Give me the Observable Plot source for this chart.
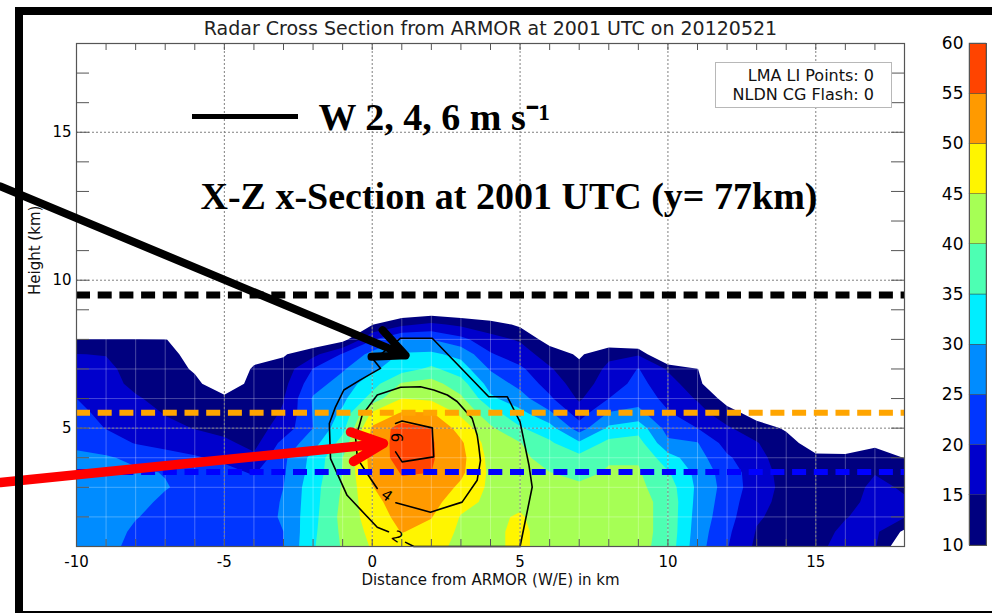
<!DOCTYPE html>
<html><head><meta charset="utf-8">
<script src="https://cdn.jsdelivr.net/npm/d3@7"></script>
<script src="https://cdn.jsdelivr.net/npm/@observablehq/plot@0.6"></script>
<style>
html,body{margin:0;padding:0;background:#fff;}
#wrap{position:relative;width:992px;height:613px;overflow:hidden;background:#fff;font-family:"DejaVu Sans",sans-serif;}
#main,#cbar{position:absolute;top:0;}
#main{left:0;}
#cbar{left:930px;}
.frame{position:absolute;left:15px;top:7px;width:1000px;height:596px;border:8px solid #000;pointer-events:none;}
.lgbox{position:absolute;left:715px;top:62px;width:158px;height:41px;padding:3px 17px 0 0;border:1px solid #b8b8b8;background:#fff;font:16px "DejaVu Sans",sans-serif;text-align:right;line-height:19px;color:#111;white-space:nowrap;}
.lgline{position:absolute;left:192px;top:113.5px;width:106px;height:5px;background:#000;}
</style>
</head><body>
<div id="wrap">
  <div id="main"></div>
  <div id="cbar"></div>
  <div class="lgline"></div>
  <div class="lgbox">LMA LI Points: 0<br>NLDN CG Flash: 0</div>
  <div class="frame"></div>
</div>
<script>
// ---------- data ----------
const titleText = "Radar Cross Section from ARMOR at 2001 UTC on 20120521";
const xLabel = "Distance from ARMOR (W/E) in km";
const yLabel = "Height (km)";
const xMajor = [-10, -5, 0, 5, 10, 15];
const yMajor = [5, 10, 15];
const cbTicks = [10, 15, 20, 25, 30, 35, 40, 45, 50, 55, 60];
const dbzLevels = [10, 15, 20, 25, 30, 35, 40, 45, 50, 55];
const dbzColors = ["#00007f", "#0000cc", "#0036ff", "#008cff", "#00eeff",
                   "#4dffb3", "#a6ff55", "#fff500", "#ff9a00", "#ff4400"];

// reflectivity grid: columns at x = -10..18 km, rows z = 1..9 km every 0.5 km
const gridX = [-10,-9,-8,-7,-6,-5,-4,-3,-2,-1,0,1,2,3,4,5,6,7,8,9,10,11,12,13,14,15,16,17,18];
const gridZ = [1,1.5,2,2.5,3,3.5,4,4.5,5,5.5,6,6.5,7,7.5,8,8.5,9];
const dbzByColumn = [
  [28,28,28,28,28,27,26,24,23,21.5,20,18.5,17,15.1,10.2,0,0],
  [27,27.5,28,28,28,27,25.5,22.5,19.8,18.5,17.5,16.5,16.2,14.8,10.3,0,0],
  [23,24,25.3,26.5,26.5,25.7,24,19.7,18.5,17.5,15.5,14,13,12,10.3,0,0],
  [21.5,22,23,24,25.3,24.8,21.5,18.8,16.5,14.7,13.5,12.5,12,11,10.1,0,0],
  [21,21.5,22,22.5,23.5,23,20.5,17.5,14.8,13.5,12.5,11,9.5,8.9,8.5,0,0],
  [21.5,22,22,22.5,22.5,21.5,19,16,13.5,12,11,7,5,3,0,0,0],
  [22,22.5,23,23,22,19.5,16,13.5,13,12.5,12,11.5,10.7,8,0,0,0],
  [25,25,25.5,25.3,25,24.5,24,21.5,17,15.5,14.8,13.5,12,9.5,0,0,0],
  [34.5,34,33.5,33.2,33,32,31.5,28,25,25.3,25.5,23,20.2,13.5,5,0,0],
  [40.5,41,41.5,41,40.5,40.2,40,37,33.5,31,28.8,27,24.5,20.5,8,0,0],
  [45.5,46.5,47.5,48.5,49.8,51.5,52,51.5,50.8,46,37,33,29,26.5,19.5,9.8,0],
  [48,50.2,51.5,52.5,54,55.3,57,57.5,57.5,50.5,45,40.5,33,30.5,25,14,5],
  [47,48.5,50.2,52,53.5,55,55.5,55.5,55,50.5,44,42,36,31,25,16,6],
  [43.5,44,44.7,46.5,49,51,51.5,50.8,48,44,41,37,32.5,28.5,21.5,14,5],
  [44,44,44,44,44,44,43.5,42.5,40.8,37,31,28,24.5,20.5,16.5,12.5,3],
  [46,46,45.5,44,43,42.5,41.5,40.2,35.5,31.5,27,23.5,21,17,14.5,9,0],
  [43,43,42.5,42,41.5,40.1,37.5,35.8,32,26,20.8,18,15.5,13,7.5,0,0],
  [42.5,42.5,42,41.5,41,38.5,36.5,30.8,22.5,17.5,14.3,12.5,11.5,9.2,0,0,0],
  [42,42,42,41.5,41,40.5,39.5,36.5,31,25.5,20,17.5,16,14,5,0,0],
  [41.5,41.5,41.5,41.5,41,40.5,39.5,37,33,26.5,23,21.5,20.2,14.5,2,0,0],
  [38,38.5,38.5,38.5,37.5,35.5,32,26,23,20.5,18.5,17,14.5,0,0,0,0],
  [27,27.5,28,28.5,29,28.5,27,25.2,20,17,14.5,12,10.2,0,0,0,0],
  [20.3,21,22,22.5,23,22.5,20.8,18,15.7,12,8,0,0,0,0,0,0],
  [14,14.7,15.5,16.5,17.5,17.5,16.5,15.3,12,8,0,0,0,0,0,0,0],
  [12.5,13,13.5,13.5,13.5,13,12.5,11.5,9.5,0,0,0,0,0,0,0,0],
  [14,13.5,13,12.5,12.5,12,10.8,8,0,0,0,0,0,0,0,0,0],
  [16.5,15.8,14.8,13.5,13,12.5,11,7,0,0,0,0,0,0,0,0,0],
  [15.5,16,16.5,16.5,16,14.8,12,9,0,0,0,0,0,0,0,0,0],
  [5,9,15.3,15.5,14.5,12,9.9,0,0,0,0,0,0,0,0,0,0]
];

// vertical velocity contours (W = 2, 4, 6 m/s) as traced, [x km, z km]
const w2Path = [[1.13,1.14],[1.41,1.0],[5.0,1.0],[5.41,3.01],[5.3,3.75],[5.0,5.21],[4.57,6.06],[3.94,6.06],[2.03,8.04],[0.96,8.04],[0.05,7.3],[0.28,7.02],[-0.4,6.63],[-0.96,6.29],[-1.24,5.72],[-1.45,5.16],[-1.41,3.97],[-0.85,2.73],[0.17,1.65],[0.55,1.5]];
const w4Path = [[0.8,2.48],[1.97,2.16],[3.04,2.5],[3.55,3.24],[3.66,3.9],[3.6,4.42],[3.55,4.76],[3.38,5.33],[2.87,5.9],[2.54,6.12],[2.08,6.29],[1.63,6.4],[0.96,6.38],[0.17,6.12],[-0.34,5.44],[-0.56,4.65],[-0.5,3.97],[-0.06,3.3],[0.17,2.96]];
const w6Path = [[0.79,5.16],[1.01,5.24],[2.03,5.01],[2.08,4.03],[1.01,3.86],[0.79,4.2]];
const wLabels = ["2", "4", "6"];
const wLabelX = [0.84, 0.49, 0.79];
const wLabelZ = [1.32, 2.72, 4.68];
const wLabelAngle = [34, 36, 90];

// horizontal reference heights (km)
const layerHeights = [9.5, 5.52, 3.52];
const layerColors = ["#000000", "#ffa500", "#0000ff"];

// annotation arrows (from, to) in km
const arrows = [
  {x1: -12.57, y1: 13.17, x2: 1.13, y2: 7.46, color: "#000000"},
  {x1: -12.57, y1: 3.16, x2: 0.38, y2: 4.48, color: "#ff0000"}
];
const legendText = "W 2, 4, 6 m s\u207B\u00B9";
const sectionText = "X-Z x-Section at 2001 UTC (y= 77km)";

// ---------- build grid table ----------
const nx = gridX.length, nz = gridZ.length;
const dbzGrid = [];
for (let j = 0; j < nz; j++) for (let i = 0; i < nx; i++) dbzGrid.push(dbzByColumn[i][j]);
const dxg = gridX[1] - gridX[0], dzg = gridZ[1] - gridZ[0];

const colorScale = {type: "threshold", domain: dbzLevels.slice(1), range: dbzColors};
const xAll = d3.range(-10, 19);
const yAll = d3.range(1, 19);
const frameH = 613 - 43 - 67, frameW = 992 - 76 - 88;

const main = Plot.plot({
  width: 992, height: 613,
  marginLeft: 76, marginRight: 88, marginTop: 43, marginBottom: 67,
  x: {domain: [-10, 18]},
  y: {domain: [1, 18]},
  color: colorScale,
  style: {fontFamily: '"DejaVu Sans", sans-serif', fontSize: "15px", color: "#000", background: "transparent", overflow: "visible"},
  marks: [
    Plot.contour(dbzGrid, {
      width: nx, height: nz,
      x1: gridX[0] - dxg / 2, x2: gridX[nx - 1] + dxg / 2,
      y1: gridZ[0] - dzg / 2, y2: gridZ[nz - 1] + dzg / 2,
      thresholds: dbzLevels, fill: Plot.identity, stroke: "none", clip: true
    }),
    Plot.ruleX(xAll, {stroke: "#fff", strokeOpacity: 0.28, strokeWidth: 1}),
    Plot.ruleY(yAll, {stroke: "#fff", strokeOpacity: 0.28, strokeWidth: 1}),
    Plot.ruleX(xMajor.slice(1), {stroke: "#808080", strokeWidth: 1, strokeDasharray: "2,2"}),
    Plot.ruleY(yMajor, {stroke: "#808080", strokeWidth: 1, strokeDasharray: "2,2"}),
    Plot.line(w2Path, {x: d => d[0], y: d => d[1], stroke: "#000", strokeWidth: 1.6}),
    Plot.line(w4Path, {x: d => d[0], y: d => d[1], stroke: "#000", strokeWidth: 1.6}),
    Plot.line(w6Path, {x: d => d[0], y: d => d[1], stroke: "#000", strokeWidth: 1.6}),
    Plot.text(wLabels, {x: (d, i) => wLabelX[i], y: (d, i) => wLabelZ[i], rotate: (d, i) => wLabelAngle[i], text: d => d, fontSize: 15, fill: "#000"}),
    Plot.ruleY(layerHeights, {stroke: layerColors, strokeWidth: [7, 6, 6], strokeDasharray: "14,7.7"}),
    Plot.frame({stroke: "#555", strokeWidth: 1.2}),
    Plot.ruleX(xAll, {insetTop: frameH - 7, stroke: "#555"}),
    Plot.ruleX(xAll, {insetBottom: frameH - 7, stroke: "#555"}),
    Plot.ruleY(yAll, {insetRight: frameW - 13, stroke: "#555"}),
    Plot.ruleY(yAll, {insetLeft: frameW - 13, stroke: "#555"}),
    Plot.axisX({ticks: xMajor, tickSize: 0, tickPadding: 10, tickFormat: d => String(d), fontSize: 15, label: null}),
    Plot.axisY({ticks: yMajor, tickSize: 0, tickPadding: 5, tickFormat: d => String(d), fontSize: 15, label: null}),
    Plot.text([titleText], {frameAnchor: "top", lineAnchor: "bottom", dy: -9, fontSize: 19, fill: "#222"}),
    Plot.text([xLabel], {frameAnchor: "bottom", lineAnchor: "bottom", dy: 38, fontSize: 15, fill: "#111"}),
    Plot.text([yLabel], {frameAnchor: "left", dx: -41, rotate: -90, fontSize: 15, fill: "#111"}),
    Plot.text([legendText], {frameAnchor: "top-left", dx: 242, dy: 86, lineAnchor: "bottom", textAnchor: "start", fontFamily: '"Liberation Serif", serif', fontWeight: "bold", fontSize: 38, fill: "#000"}),
    Plot.text([sectionText], {frameAnchor: "top-left", dx: 124, dy: 165, lineAnchor: "bottom", textAnchor: "start", fontFamily: '"Liberation Serif", serif', fontWeight: "bold", fontSize: 38, fill: "#000"}),
    Plot.arrow(arrows, {filter: d => d.color === "#000000", x1: "x1", y1: "y1", x2: "x2", y2: "y2", stroke: "color", strokeWidth: 8, headLength: 6.4, headAngle: 50}),
    Plot.arrow(arrows, {filter: d => d.color === "#ff0000", x1: "x1", y1: "y1", x2: "x2", y2: "y2", stroke: "color", strokeWidth: 9.5, headLength: 5.5, headAngle: 50})
  ]
});
document.getElementById("main").appendChild(main);

const cbar = Plot.plot({
  width: 62, height: 613,
  marginLeft: 39, marginRight: 6, marginTop: 43, marginBottom: 68,
  y: {domain: [10, 60]},
  color: colorScale,
  style: {fontFamily: '"DejaVu Sans", sans-serif', fontSize: "17px", color: "#000", background: "transparent", overflow: "visible"},
  marks: [
    Plot.rect(dbzLevels, {y1: d => d, y2: (d, i) => cbTicks[i + 1], fill: d => d, stroke: "#333", strokeWidth: 0.4}),
    Plot.frame({stroke: "#555"}),
    Plot.axisY({ticks: cbTicks, tickSize: 0, tickPadding: 6, tickFormat: d => String(d), fontSize: 17, label: null})
  ]
});
document.getElementById("cbar").appendChild(cbar);
</script>
</body></html>
